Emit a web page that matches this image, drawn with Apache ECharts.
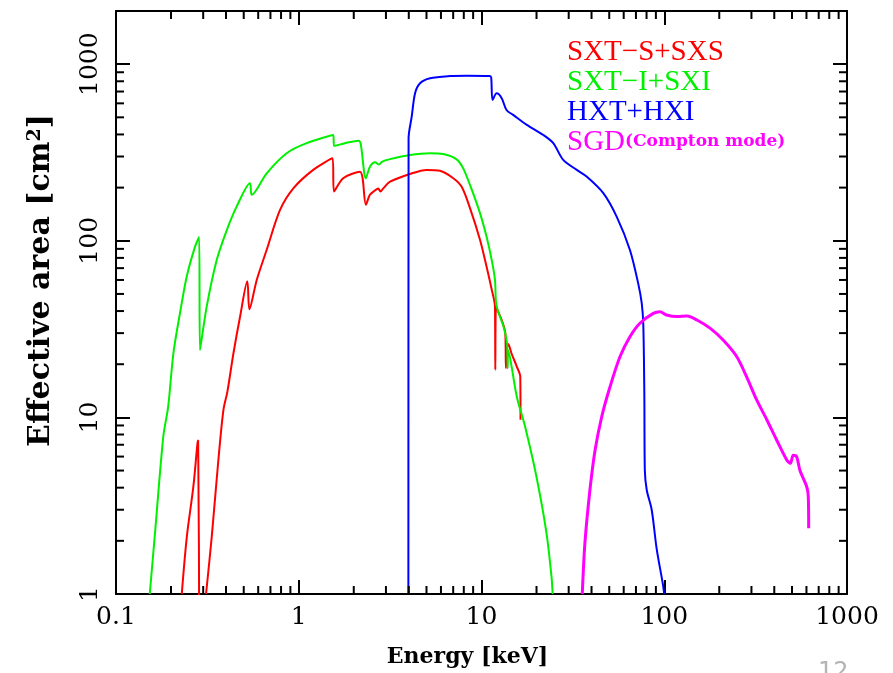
<!DOCTYPE html>
<html>
<head>
<meta charset="utf-8">
<script src="https://cdn.jsdelivr.net/npm/echarts@6/dist/echarts.min.js"></script>
<style>
html,body{margin:0;padding:0;background:#fff;}
#c{width:893px;height:673px;}
</style>
</head>
<body>
<div id="c"></div>
<script>
// ---- axis ranges and tick labels ----
const X_MIN = 0.1, X_MAX = 1000;
const Y_MIN = 1, Y_MAX = 2000;
const xTickLabels = ['0.1', '1', '10', '100', '1000'];
const yTickLabels = ['1', '10', '100', '1000'];
const minorMultipliers = [2, 3, 4, 5, 6, 7, 8, 9];
const xDecades = [0.1, 1, 10, 100];
const yDecades = [1, 10, 100, 1000];

// ---- series names ----
const seriesNames = ['SXT\u2212S+SXS', 'SXT\u2212I+SXI', 'HXT+HXI', 'SGD'];

// ---- data: [energy keV, effective area cm^2] ----
const sxtsData = [
  [0.229,1],[0.244,2.1],[0.265,4.05],[0.279,7.1],[0.2815,7.4],[0.2855,0.5],[0.2855,'-'],
  [0.311,1],[0.334,2.1],[0.363,5.7],[0.387,11],[0.407,14],[0.439,23],[0.477,37],[0.523,59],
  [0.537,41],[0.589,60],[0.668,89],[0.789,149],[0.934,198],[1.2,252],[1.53,293],[1.56,190],
  [1.75,226],[2.16,246],[2.33,160],[2.45,182],[2.6,192],[2.72,198],[2.8,190],[2.9,198],
  [3.16,216],[4.06,239],[5.01,252],[5.93,249],[7.01,226],[7.79,202],[8.65,153],[9.82,101],
  [10.67,71],[11.37,53],[11.85,42.4],[11.9,18.6],[12.0,42],[12.9,35.6],[13.5,30],[13.6,19],
  [13.8,25],[14.0,26],[14.6,23],[15.6,19.4],[16.3,17],[16.35,9.7]
];
const sxtiData = [
  [0.153,1],[0.164,2.3],[0.1815,7.8],[0.193,11.5],[0.206,23],[0.224,39],[0.244,63],[0.271,93],
  [0.285,105],[0.288,24],[0.313,42],[0.356,78],[0.404,115],[0.457,156],[0.541,212],[0.553,182],
  [0.668,241],[0.859,313],[1.105,357],[1.545,397],[1.56,344],[1.83,359],[2.12,369],[2.18,357],
  [2.33,226],[2.45,262],[2.62,278],[2.75,270],[2.85,280],[3.16,290],[4.06,306],[5.23,313],
  [6.18,310],[7.31,289],[7.94,257],[8.65,207],[9.82,143],[10.67,105],[11.37,78],[11.85,60],
  [12.0,45],[12.3,40],[13.2,32.6],[13.8,26],[13.9,19],[14.0,24],[15.6,13.1],[17.3,8.9],
  [20.0,4.6],[22.7,2.2],[24.2,1.23],[24.5,1]
];
const hxtData = [
  [3.98,1],[3.99,380],[4.15,504],[4.33,684],[4.61,780],[5.23,832],[6.73,857],[8.3,861],
  [11.1,857],[11.3,840],[11.5,627],[12.1,684],[12.9,641],[13.7,550],[14.9,516],[17.7,453],
  [21.8,397],[24.7,357],[28.0,287],[33.2,252],[37.6,231],[46.4,186],[54.9,137],[64.9,88.7],
  [72.1,57],[75.3,44.3],[76.8,33.5],[77.8,13.7],[78.3,5.0],[80.2,3.88],[85.4,2.99],[90.9,1.8],
  [98.1,1.15],[100,1]
];
const sgdData = [
  [35.6,1],[36.8,1.94],[39.2,3.88],[41.8,6.5],[45.5,10.1],[50.5,14.9],[57.3,22.1],[64.9,28.6],
  [73.6,34.1],[87.1,38.8],[94.8,39.7],[103,38],[117,37.2],[133,37.5],[151,35.6],[178,32],
  [210,27.4],[249,22.1],[282,17],[320,12.6],[364,9.7],[412,7.45],[468,5.74],[490,5.5],
  [508,6.1],[530,6.0],[553,5.0],[602,4.05],[614,3.56],[617,2.36]
];
const seriesColors = ['#ff0000', '#00f000', '#0000ff', '#ff00ff'];

// ---- minor tick values (2..9 within each decade) ----
const xMinorTicks = [];
xDecades.forEach(d => minorMultipliers.forEach(m => xMinorTicks.push(+(d * m).toPrecision(6))));
const yMinorTicks = [];
yDecades.forEach(d => minorMultipliers.forEach(m => { if (d * m < Y_MAX) yMinorTicks.push(d * m); }));

function powLabel(labels, offset) {
  return function (v) {
    const l = Math.log10(v);
    const r = Math.round(l);
    if (Math.abs(l - r) > 1e-6) return '';
    const s = labels[r + offset];
    return s === undefined ? '' : s;
  };
}

const axisLineStyle = { color: '#000', width: 2 };
const tickStyle = { inside: true, length: 14, lineStyle: { color: '#000', width: 2 } };
const labelFont = { fontFamily: 'DejaVu Serif', fontSize: 25, color: '#000' };

function minorTickSeries(values, isX) {
  return {
    type: 'custom', xAxisIndex: 0, yAxisIndex: 0, silent: true, clip: false, z: 5,
    data: values.map(v => isX ? [v, Y_MIN] : [X_MIN, v]),
    renderItem: function (params, api) {
      const L = 8;
      const st = { stroke: '#000', lineWidth: 2 };
      if (isX) {
        const v = api.value(0);
        const a = api.coord([v, Y_MIN]);
        const b = api.coord([v, Y_MAX]);
        return { type: 'group', children: [
          { type: 'line', shape: { x1: a[0], y1: a[1], x2: a[0], y2: a[1] - L }, style: st },
          { type: 'line', shape: { x1: b[0], y1: b[1], x2: b[0], y2: b[1] + L }, style: st }
        ] };
      } else {
        const v = api.value(1);
        const a = api.coord([X_MIN, v]);
        const b = api.coord([X_MAX, v]);
        return { type: 'group', children: [
          { type: 'line', shape: { x1: a[0], y1: a[1], x2: a[0] + L, y2: a[1] }, style: st },
          { type: 'line', shape: { x1: b[0], y1: b[1], x2: b[0] - L, y2: b[1] }, style: st }
        ] };
      }
    }
  };
}

const lineData = [sxtsData, sxtiData, hxtData, sgdData];
const lineSeries = seriesNames.map((n, i) => ({
  name: n, type: 'line', xAxisIndex: 0, yAxisIndex: 0,
  data: lineData[i], showSymbol: false, symbol: 'none', clip: true, smooth: 0.3,
  lineStyle: { color: seriesColors[i], width: i === 3 ? 3 : 2 },
  itemStyle: { color: seriesColors[i] }, z: 3
}));

const chart = echarts.init(document.getElementById('c'), null, { renderer: 'canvas' });
chart.setOption({
  animation: false,
  backgroundColor: '#fff',
  grid: { left: 116, right: 46, top: 11, bottom: 79, containLabel: false },
  xAxis: [
    {
      type: 'log', logBase: 10, min: X_MIN, max: X_MAX, position: 'bottom',
      axisLine: { onZero: false, lineStyle: axisLineStyle },
      axisTick: tickStyle,
      axisLabel: Object.assign({ formatter: powLabel(xTickLabels, 1), margin: 11, showMinLabel: true, showMaxLabel: true }, labelFont),
      splitLine: { show: false },
      name: 'Energy [keV]', nameLocation: 'middle', nameGap: 52,
      nameTextStyle: { fontFamily: 'DejaVu Serif', fontWeight: 'bold', fontSize: 22, color: '#000', padding: [0, 28, 0, 0] }
    },
    {
      type: 'log', logBase: 10, min: X_MIN, max: X_MAX, position: 'top',
      axisLine: { onZero: false, lineStyle: axisLineStyle },
      axisTick: tickStyle, axisLabel: { show: false }, splitLine: { show: false }
    }
  ],
  yAxis: [
    {
      type: 'log', logBase: 10, min: Y_MIN, max: Y_MAX, position: 'left',
      axisLine: { onZero: false, lineStyle: axisLineStyle },
      axisTick: tickStyle,
      axisLabel: Object.assign({ formatter: powLabel(yTickLabels, 0), margin: 13, rotate: 90, showMinLabel: true, showMaxLabel: true }, labelFont),
      splitLine: { show: false },
      name: 'Effective area [cm{sup|2}]', nameLocation: 'middle', nameGap: 60, nameRotate: 90,
      nameTextStyle: {
        fontFamily: 'DejaVu Serif', fontWeight: 'bold', fontSize: 30, color: '#000', padding: [0, 0, 0, 44],
        rich: { sup: { fontFamily: 'DejaVu Serif', fontWeight: 'bold', fontSize: 19, color: '#000', verticalAlign: 'top' } }
      }
    },
    {
      type: 'log', logBase: 10, min: Y_MIN, max: Y_MAX, position: 'right',
      axisLine: { onZero: false, lineStyle: axisLineStyle },
      axisTick: tickStyle, axisLabel: { show: false }, splitLine: { show: false }
    }
  ],
  legend: {
    orient: 'vertical', left: 557, top: 32, itemWidth: 0, itemHeight: 0, itemGap: 0,
    icon: 'rect', selectedMode: false,
    data: seriesNames.map((n, i) => ({ name: n, textStyle: { color: seriesColors[i] } })),
    formatter: function (n) { return n === 'SGD' ? '{a|SGD}{b|(Compton mode)}' : n; },
    textStyle: {
      fontFamily: 'Liberation Serif', fontSize: 29, lineHeight: 30,
      rich: {
        a: { fontFamily: 'Liberation Serif', fontSize: 29, color: '#ff00ff', lineHeight: 30 },
        b: { fontFamily: 'DejaVu Serif', fontWeight: 'bold', fontSize: 17, color: '#ff00ff', lineHeight: 30 }
      }
    }
  },
  graphic: [
    { type: 'text', left: 818, top: 661, style: { text: '12', fill: '#b4b4b4', font: '24px "DejaVu Sans"' } }
  ],
  series: lineSeries.concat([minorTickSeries(xMinorTicks, true), minorTickSeries(yMinorTicks, false)])
});
</script>
</body>
</html>
